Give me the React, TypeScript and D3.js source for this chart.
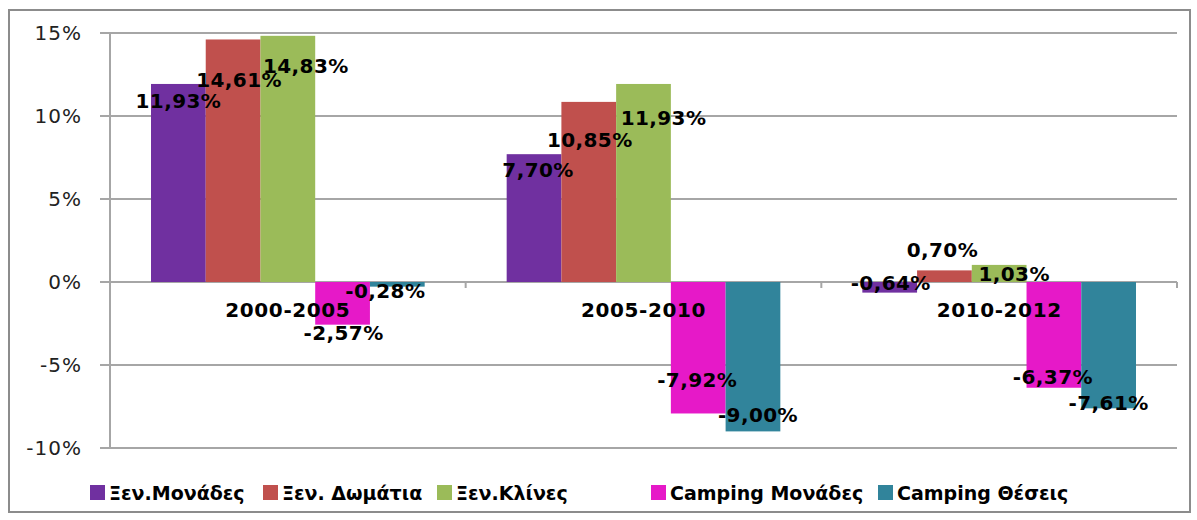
import React from 'react';
import * as d3 from 'd3';

const categories = ['2000-2005', '2005-2010', '2010-2012'];
const seriesNames = ['Ξεν.Μονάδες', 'Ξεν. Δωμάτια', 'Ξεν.Κλίνες', 'Camping Μονάδες', 'Camping Θέσεις'];
const seriesColors = ['#7030A0', '#C0504D', '#9BBB59', '#E619C8', '#31849B'];
// values per series, one per category (%)
const xenMonades = [11.93, 7.7, -0.64];
const xenDomatia = [14.61, 10.85, 0.7];
const xenKlines = [14.83, 11.93, 1.03];
const campingMonades = [-2.57, -7.92, -6.37];
const campingTheseis = [-0.28, -9.0, -7.61];
const yTicks = [15, 10, 5, 0, -5, -10];

const seriesValues = [xenMonades, xenDomatia, xenKlines, campingMonades, campingTheseis];

// label nudges [dx, dy] from bar center / bar end, per series then category (layout only)
const labelNudge = [
  [[0, 17], [4, 16], [1, -10]],
  [[6, 41], [1, 38], [-2, -20]],
  [[18, 30], [20, 34], [15, 9]],
  [[1, 8], [-1, -33], [-1, -11]],
  [[-12, 4], [5, -16], [0, -5]],
];

const W = 1197;
const H = 520;
const plot = { left: 110, right: 1177, top: 33, bottom: 448 };
const font = '"DejaVu Sans", Verdana, sans-serif';
const fmt = (v: number) => v.toFixed(2).replace('.', ',') + '%';

const legendX = [90, 263, 437, 651, 878];

export default function App() {
  const y = d3.scaleLinear().domain([-10, 15]).range([plot.bottom, plot.top]);
  const x0 = d3
    .scaleBand()
    .domain(categories)
    .range([plot.left, plot.right])
    .paddingInner(0)
    .paddingOuter(0);
  const x1 = d3
    .scaleBand()
    .domain(seriesNames)
    .range([41, x0.bandwidth() - 41])
    .padding(0);

  const zero = y(0);

  return (
    <svg width={W} height={H} style={{ position: 'absolute', left: 0, top: 0, background: '#fff' }}>
      <rect x={9} y={10} width={1181} height={502} fill="#fff" stroke="#8c8c8c" strokeWidth={2} />

      {/* gridlines + y ticks */}
      {yTicks.map((t) => (
        <g key={t}>
          <line x1={plot.left - 10} x2={plot.right} y1={y(t)} y2={y(t)} stroke="#a6a6a6" strokeWidth={2} />
          <text
            x={82}
            y={y(t)}
            textAnchor="end"
            dominantBaseline="central"
            fontFamily={font}
            fontSize={20}
            letterSpacing={1}
            fill="#222"
          >
            {t}%
          </text>
        </g>
      ))}
      <line x1={plot.left} x2={plot.left} y1={plot.top} y2={plot.bottom} stroke="#a6a6a6" strokeWidth={2} />

      {/* bars */}
      {seriesValues.map((vals, si) =>
        vals.map((v, ci) => {
          const bx = (x0(categories[ci]) ?? 0) + (x1(seriesNames[si]) ?? 0);
          return (
            <rect
              key={`${si}-${ci}`}
              x={bx}
              y={Math.min(y(v), zero)}
              width={x1.bandwidth()}
              height={Math.abs(y(v) - zero)}
              fill={seriesColors[si]}
            />
          );
        })
      )}

      {/* category axis ticks at zero */}
      {[...categories.map((c) => x0(c) ?? 0), plot.right].map((xx, i) => (
        <line key={i} x1={xx} x2={xx} y1={zero} y2={zero + 6} stroke="#a6a6a6" strokeWidth={2} />
      ))}

      {/* category labels */}
      {categories.map((c) => (
        <text
          key={c}
          x={(x0(c) ?? 0) + x0.bandwidth() / 2}
          y={zero + 28}
          textAnchor="middle"
          dominantBaseline="central"
          fontFamily={font}
          fontSize={20}
          letterSpacing={0.6}
          fontWeight="bold"
          fill="#000"
        >
          {c}
        </text>
      ))}

      {/* data labels */}
      {seriesValues.map((vals, si) =>
        vals.map((v, ci) => {
          const cx = (x0(categories[ci]) ?? 0) + (x1(seriesNames[si]) ?? 0) + x1.bandwidth() / 2;
          const [dx, dy] = labelNudge[si][ci];
          return (
            <text
              key={`l-${si}-${ci}`}
              x={cx + dx}
              y={y(v) + dy}
              textAnchor="middle"
              dominantBaseline="central"
              fontFamily={font}
              fontSize={20}
              letterSpacing={0.4}
              fontWeight="bold"
              fill="#000"
            >
              {fmt(v)}
            </text>
          );
        })
      )}

      {/* legend */}
      {seriesNames.map((n, i) => (
        <g key={n}>
          <rect x={legendX[i]} y={485} width={15} height={15} fill={seriesColors[i]} />
          <text
            x={legendX[i] + 19}
            y={493}
            dominantBaseline="central"
            fontFamily={font}
            fontSize={19}
            fontWeight="bold"
            fill="#000"
          >
            {n}
          </text>
        </g>
      ))}
    </svg>
  );
}
